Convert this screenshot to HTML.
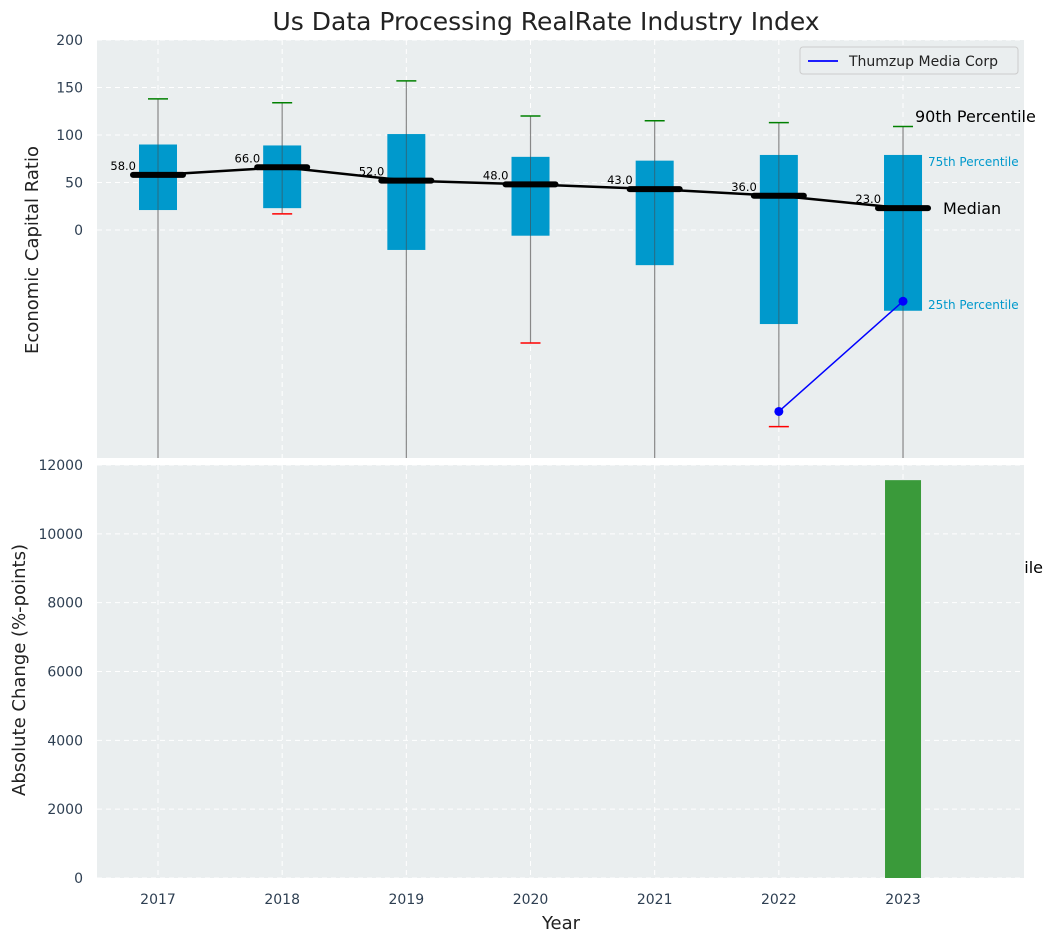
<!DOCTYPE html>
<html><head><meta charset="utf-8"><style>
body{margin:0;background:#fff;font-family:"Liberation Sans","DejaVu Sans",sans-serif}
svg text{font-family:"DejaVu Sans","Liberation Sans",sans-serif}
</style></head><body>
<svg id="c" width="1050" height="942" xmlns="http://www.w3.org/2000/svg"></svg>
<script>
const years=[2017,2018,2019,2020,2021,2022,2023];
const q75=[90,89,101,77,73,79,79];
const q25=[21,23,-21,-6,-37,-99,-85];
const p90=[138,134,157,120,115,113,109];
const p10=[-300,17,-300,-119,-300,-207,-300];
const medians=[58,66,52,48,43,36,23];
const companyYears=[2022,2023];
const companyVals=[-191,-75];
const changeYears=[2023];
const changeVals=[11560];
const yTicksTop=[0,50,100,150,200];
const yTicksBot=[0,2000,4000,6000,8000,10000,12000];

const svg=document.getElementById('c');
const NS='http://www.w3.org/2000/svg';
function el(tag,attrs,parent){const e=document.createElementNS(NS,tag);for(const k in attrs)e.setAttribute(k,attrs[k]);(parent||svg).appendChild(e);return e;}
const L=97,R=1024;
const x=v=>158+(v-2017)*124.17;
const T0=40,T1=458, yT=v=>230-v*0.95;
const B0=465,B1=878, yB=v=>878-v*413/12000;

let t=el('text',{x:546,y:30,'text-anchor':'middle','font-size':25,fill:'#222'});t.textContent='Us Data Processing RealRate Industry Index';


t=el('text',{x:1043,y:573,'text-anchor':'end','font-size':16,fill:'#000'});t.textContent='10th Percentile';


let g=el('g',{});
el('rect',{x:L,y:T0,width:R-L,height:T1-T0,fill:'#eaeeef'},g);
const cp=el('clipPath',{id:'tc'});el('rect',{x:L,y:T0,width:R-L,height:T1-T0},cp);
years.forEach(yr=>el('line',{x1:x(yr),x2:x(yr),y1:T0,y2:T1,stroke:'#fff','stroke-dasharray':'5,4','stroke-width':1},g));
yTicksTop.forEach(v=>{el('line',{x1:L,x2:R,y1:yT(v),y2:yT(v),stroke:'#fff','stroke-dasharray':'5,4'},g);
 const tt=el('text',{x:83,y:yT(v)+5,'text-anchor':'end','font-size':14,fill:'#2e3f52','font-family':'Liberation Sans, sans-serif'});tt.textContent=v;
 });
const pg=el('g',{'clip-path':'url(#tc)'},g);
years.forEach((yr,i)=>{
 const cx=x(yr);
 let b=el('line',{x1:cx,x2:cx,y1:yT(p90[i]),y2:yT(p10[i]),stroke:'#888','stroke-width':1.2},pg);
 
 b=el('rect',{x:cx-19,y:yT(q75[i]),width:38,height:yT(q25[i])-yT(q75[i]),fill:'#0099cc'},pg);
 
 el('line',{x1:cx,x2:cx,y1:yT(q75[i]),y2:yT(q25[i]),stroke:'#2a6a80','stroke-width':1},pg);
 el('line',{x1:cx-10,x2:cx+10,y1:yT(p90[i]),y2:yT(p90[i]),stroke:'green','stroke-width':1.5},pg);
 el('line',{x1:cx-10,x2:cx+10,y1:yT(p10[i]),y2:yT(p10[i]),stroke:'red','stroke-width':1.5},pg);
});
el('polyline',{points:years.map((yr,i)=>x(yr)+','+yT(medians[i])).join(' '),fill:'none',stroke:'#000','stroke-width':2.5},pg);
years.forEach((yr,i)=>{
 const m=el('line',{x1:x(yr)-25,x2:x(yr)+25,y1:yT(medians[i]),y2:yT(medians[i]),stroke:'#000','stroke-width':6,'stroke-linecap':'round'},pg);
 
 const tl=el('text',{x:x(yr)-22,y:yT(medians[i])-5,'text-anchor':'end','font-size':11.5,fill:'#000'},pg);tl.textContent=medians[i].toFixed(1);
 
});
el('polyline',{points:companyYears.map((yr,i)=>x(yr)+','+yT(companyVals[i])).join(' '),fill:'none',stroke:'blue','stroke-width':1.5},pg);
companyYears.forEach((yr,i)=>{const c=el('circle',{cx:x(yr),cy:yT(companyVals[i]),r:4.5,fill:'blue'},pg);
 });
[[915,122,'90th Percentile',16,'#000'],[928,166,'75th Percentile',12,'#0099cc'],[943,214,'Median',16,'#000'],[928,309,'25th Percentile',12,'#0099cc']].forEach(a=>{
 const tt=el('text',{x:a[0],y:a[1],'font-size':a[3],fill:a[4]});tt.textContent=a[2];
 });
t=el('text',{x:38,y:250,'text-anchor':'middle','font-size':18,fill:'#222',transform:'rotate(-90 38 250)'});t.textContent='Economic Capital Ratio';

let lg=el('g',{});
el('rect',{x:800,y:47,width:218,height:27,rx:3,fill:'#eaeeef',stroke:'#ccc'},lg);
el('line',{x1:808,x2:838,y1:61,y2:61,stroke:'blue','stroke-width':1.8},lg);
t=el('text',{x:849,y:66,'font-size':14,fill:'#222'},lg);t.textContent='Thumzup Media Corp';

g=el('g',{});
el('rect',{x:L,y:B0,width:R-L,height:B1-B0,fill:'#eaeeef'},g);
years.forEach(yr=>el('line',{x1:x(yr),x2:x(yr),y1:B0,y2:B1,stroke:'#fff','stroke-dasharray':'5,4'},g));
yTicksBot.forEach(v=>{el('line',{x1:L,x2:R,y1:yB(v),y2:yB(v),stroke:'#fff','stroke-dasharray':'5,4'},g);
 const tt=el('text',{x:83,y:yB(v)+5,'text-anchor':'end','font-size':14,fill:'#2e3f52','font-family':'Liberation Sans, sans-serif'});tt.textContent=v;
 });
changeYears.forEach((yr,i)=>{const b=el('rect',{x:x(yr)-18,y:yB(changeVals[i]),width:36,height:yB(0)-yB(changeVals[i]),fill:'#3a9a3a'},g);
 });
years.forEach(yr=>{const tt=el('text',{x:x(yr),y:904,'text-anchor':'middle','font-size':14,fill:'#2e3f52','font-family':'Liberation Sans, sans-serif'});tt.textContent=yr;
 });
t=el('text',{x:561,y:929,'text-anchor':'middle','font-size':18,fill:'#222'});t.textContent='Year';

t=el('text',{x:25,y:670,'text-anchor':'middle','font-size':18,fill:'#222',transform:'rotate(-90 25 670)'});t.textContent='Absolute Change (%-points)';

</script>
</body></html>
